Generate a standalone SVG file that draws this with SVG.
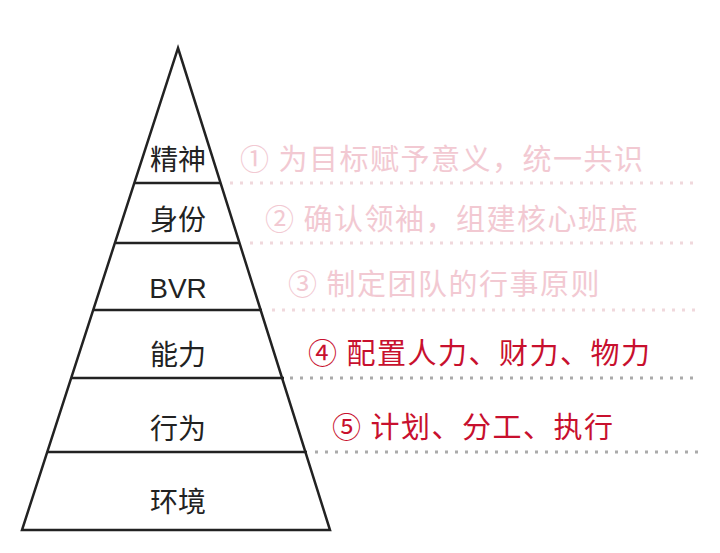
<svg xmlns="http://www.w3.org/2000/svg" width="720" height="553" viewBox="0 0 720 553">
<style>
.l{font-family:"Liberation Sans","Noto Sans CJK SC",sans-serif;font-size:28px;fill:#222;text-anchor:middle}
.p{font-family:"Noto Sans CJK SC",sans-serif;font-size:29px;fill:#f2c9d2;letter-spacing:1.5px}
.r{font-family:"Noto Sans CJK SC",sans-serif;font-size:29px;fill:#c8102e;letter-spacing:1.5px}
.s{stroke:#222;stroke-width:2.5;fill:none}
.dp{stroke:#f0d8dc;stroke-width:3;stroke-dasharray:3 7}
.dg{stroke:#aaa;stroke-width:3;stroke-dasharray:3 7}
</style>
<rect width="720" height="553" fill="#fff"/>
<g id="connectors">
<line class="dp" x1="230" y1="183" x2="700" y2="183"/>
<line class="dp" x1="250" y1="243" x2="700" y2="243"/>
<line class="dp" x1="272" y1="310" x2="700" y2="310"/>
<line class="dg" x1="290" y1="378" x2="700" y2="378"/>
<line class="dg" x1="315" y1="452" x2="700" y2="452"/>
</g>
<g id="pyramid">
<polygon class="s" points="178,48 330,530 22,530"/>
<line class="s" x1="135" y1="183" x2="221" y2="183"/>
<line class="s" x1="116" y1="243" x2="240" y2="243"/>
<line class="s" x1="94" y1="310" x2="262" y2="310"/>
<line class="s" x1="72" y1="378" x2="284" y2="378"/>
<line class="s" x1="48" y1="452" x2="307" y2="452"/>
</g>
<g id="n1"><text class="l" x="178" y="170">精神</text><text class="p" x="240" y="170">①  为目标赋予意义，统一共识</text></g>
<g id="n2"><text class="l" x="178" y="230">身份</text><text class="p" x="265" y="230">②  确认领袖，组建核心班底</text></g>
<g id="n3"><text class="l" x="178" y="298">BVR</text><text class="p" x="288" y="295">③  制定团队的行事原则</text></g>
<g id="n4"><text class="l" x="178" y="365">能力</text><text class="r" x="308" y="364">④  配置人力、财力、物力</text></g>
<g id="n5"><text class="l" x="178" y="439">行为</text><text class="r" x="332" y="438">⑤  计划、分工、执行</text></g>
<g id="n6"><text class="l" x="178" y="512">环境</text></g>
</svg>
